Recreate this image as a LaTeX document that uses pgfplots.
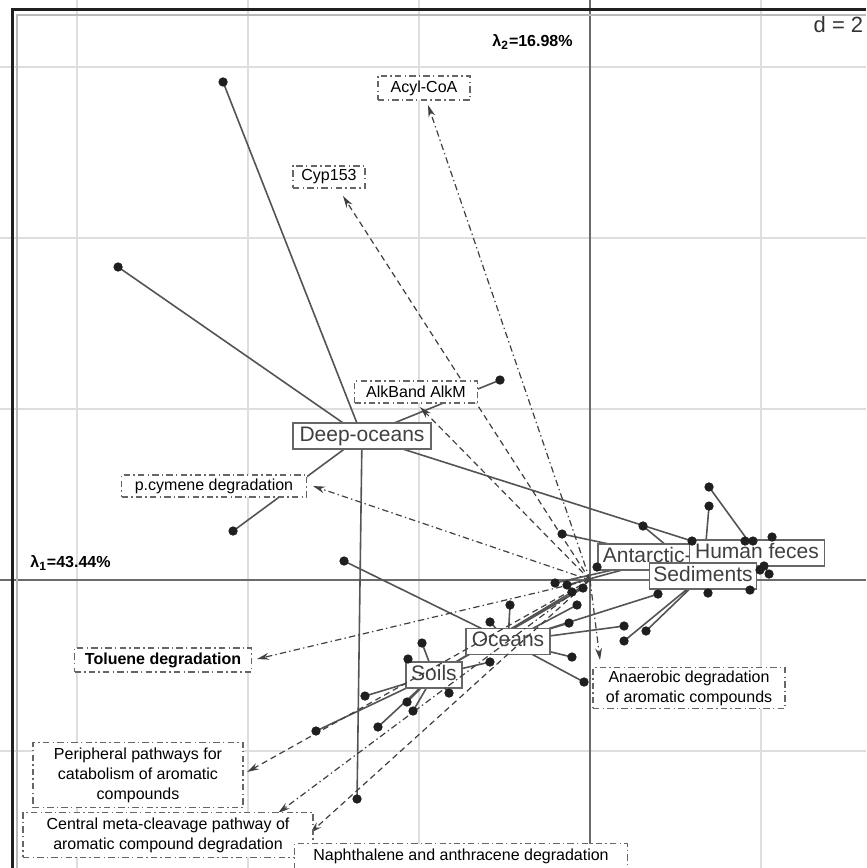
\documentclass[border=0pt]{standalone}
\usepackage{pgfplots}
\pgfplotsset{compat=1.18}
\usepackage{fontspec}
\setmainfont{Liberation Sans}
\usetikzlibrary{arrows.meta}

\definecolor{gridc}{gray}{0.87}
\definecolor{axc}{gray}{0.42}
\definecolor{linec}{gray}{0.33}
\definecolor{ptc}{gray}{0.12}
\definecolor{arrc}{gray}{0.25}
\definecolor{boxc}{gray}{0.40}
\definecolor{labc}{gray}{0.25}

\begin{document}
\begin{tikzpicture}[
  star/.style={linec, line width=0.8pt},
  arr/.style={arrc, line width=0.6pt, -{Stealth[length=6pt,width=3.4pt]}},
  dsh/.style={dash pattern=on 3pt off 2pt},
  dd/.style={dash pattern=on 3.2pt off 1.6pt on 0.7pt off 1.6pt},
  classbox/.style={draw=boxc, fill=white, line width=0.8pt, inner xsep=1pt, inner ysep=1pt,
     minimum height=13pt, text height=7.6pt, text depth=2.2pt,
     font=\fontsize{10.5}{12}\selectfont, text=labc},
  lab/.style={draw=boxc, fill=white, line width=0.6pt, dd, inner sep=1pt,
     font=\fontsize{8}{10}\selectfont, text=black, align=center},
]
\begin{axis}[
  scale only axis, width=433pt, height=434pt,
  xmin=-6.901, xmax=3.228, ymin=-3.368, ymax=6.784,
  axis line style={draw=none},
  xtick={-6,-4,-2,2}, ytick={-2,2,4,6},
  xticklabels={}, yticklabels={},
  tick style={draw=none},
  grid=major, grid style={gridc, line width=0.8pt},
  unbounded coords=jump,
  clip=true,
]
% main axes
\draw[axc, line width=1pt] (axis cs:0,-3.368) -- (axis cs:0,6.784);
\draw[axc, line width=1pt] (axis cs:-6.901,0) -- (axis cs:3.228,0);

% star lines: Deep-oceans
\addplot[star] coordinates {
 (-2.667,1.684) (-4.292,5.825) (nan,nan)
 (-2.667,1.684) (-5.520,3.661) (nan,nan)
 (-2.667,1.684) (-1.053,2.339) (nan,nan)
 (-2.667,1.684) (-4.175,0.573) (nan,nan)
 (-2.667,1.684) (-2.725,-2.561) (nan,nan)
 (-2.667,1.684) (1.193,0.456)
};
% Human feces
\addplot[star] coordinates {
 (1.953,0.316) (1.392,1.088) (nan,nan)
 (1.953,0.316) (1.906,0.456) (nan,nan)
 (1.953,0.316) (2.129,0.503) (nan,nan)
 (1.953,0.316) (1.988,0.117) (nan,nan)
 (1.953,0.316) (2.094,0.070) (nan,nan)
 (1.953,0.316) (2.035,0.164) (nan,nan)
 (1.953,0.316) (1.813,0.456)
};
% Sediments
\addplot[star] coordinates {
 (1.322,0.047) (1.392,0.865) (nan,nan)
 (1.322,0.047) (0.620,0.632) (nan,nan)
 (1.322,0.047) (1.380,-0.152) (nan,nan)
 (1.322,0.047) (1.871,-0.117) (nan,nan)
 (1.322,0.047) (0.398,-0.713) (nan,nan)
 (1.322,0.047) (0.655,-0.596)
};
% Antarctic
\addplot[star] coordinates {
 (0.936,0.269) (-0.327,0.538) (nan,nan)
 (0.936,0.269) (0.082,0.152) (nan,nan)
 (0.936,0.269) (-0.409,-0.035) (nan,nan)
 (0.936,0.269) (-0.269,-0.058)
};
% Oceans
\addplot[star] coordinates {
 (-0.959,-0.719) (-2.877,0.222) (nan,nan)
 (-0.959,-0.719) (-0.936,-0.292) (nan,nan)
 (-0.959,-0.719) (-1.170,-0.491) (nan,nan)
 (-0.959,-0.719) (-0.246,-0.503) (nan,nan)
 (-0.959,-0.719) (0.398,-0.538) (nan,nan)
 (-0.959,-0.719) (0.795,-0.164) (nan,nan)
 (-0.959,-0.719) (-0.211,-0.901) (nan,nan)
 (-0.959,-0.719) (-0.070,-1.193) (nan,nan)
 (-0.959,-0.719) (-0.152,-0.292)
};
% Soils
\addplot[star] coordinates {
 (-1.825,-1.111) (-1.965,-0.737) (nan,nan)
 (-1.825,-1.111) (-2.129,-0.924) (nan,nan)
 (-1.825,-1.111) (-2.632,-1.357) (nan,nan)
 (-1.825,-1.111) (-2.140,-1.427) (nan,nan)
 (-1.825,-1.111) (-2.070,-1.532) (nan,nan)
 (-1.825,-1.111) (-1.649,-1.322) (nan,nan)
 (-1.825,-1.111) (-2.480,-1.719) (nan,nan)
 (-1.825,-1.111) (-3.205,-1.766) (nan,nan)
 (-1.825,-1.111) (-1.170,-0.959) (nan,nan)
 (-1.825,-1.111) (-0.082,-0.094) (nan,nan)
 (-1.825,-1.111) (-0.211,-0.140)
};

% points
\addplot[only marks, mark=*, mark size=2.1pt, mark options={fill=ptc, draw=ptc}] coordinates {
 (-4.292,5.825) (-5.520,3.661) (-1.053,2.339) (-4.175,0.573) (-2.725,-2.561) (1.193,0.456)
 (1.392,1.088) (1.906,0.456) (2.129,0.503) (1.988,0.117) (2.094,0.070) (2.035,0.164) (1.813,0.456)
 (1.392,0.865) (0.620,0.632) (1.380,-0.152) (1.871,-0.117) (0.398,-0.713) (0.655,-0.596)
 (-0.327,0.538) (0.082,0.152) (-0.409,-0.035) (-0.269,-0.058)
 (-2.877,0.222) (-0.936,-0.292) (-1.170,-0.491) (-0.246,-0.503) (0.398,-0.538) (0.795,-0.164)
 (-0.211,-0.901) (-0.070,-1.193) (-0.152,-0.292)
 (-1.965,-0.737) (-2.129,-0.924) (-2.632,-1.357) (-2.140,-1.427) (-2.070,-1.532) (-1.649,-1.322)
 (-2.480,-1.719) (-3.205,-1.766) (-1.170,-0.959) (-0.082,-0.094) (-0.211,-0.140)
};

% class labels
\node[classbox, anchor=west, text width=71pt, align=left] at (axis cs:0.082,0.269) {\hspace*{1.5pt}Antarctic-};
\node[classbox, minimum width=69pt] at (axis cs:-2.667,1.684) {Deep-oceans};
\node[classbox, minimum width=42pt] at (axis cs:-0.959,-0.719) {Oceans};
\node[classbox, minimum width=28pt] at (axis cs:-1.825,-1.111) {Soils};
\node[classbox, minimum width=67.5pt] at (axis cs:1.953,0.316) {Human feces};
\node[classbox, minimum width=53.5pt] at (axis cs:1.322,0.047) {Sediments};

% arrows
\addplot[arr, dd]  coordinates {(0,0) (-1.895,5.556)};
\addplot[arr, dsh] coordinates {(0,0) (-2.889,4.491)};
\addplot[arr, dsh] coordinates {(0,0) (-1.988,2.023)};
\addplot[arr, dd]  coordinates {(0,0) (-3.240,1.099)};
\addplot[arr, dd]  coordinates {(0,0) (-3.895,-0.924)};
\addplot[arr, dsh] coordinates {(0,0) (-4.012,-2.246)};
\addplot[arr, dd]  coordinates {(0,0) (-3.649,-2.725)};
\addplot[arr, dsh] coordinates {(0,0) (-3.275,-2.959)};
\addplot[arr, dd]  coordinates {(0,0) (0.117,-0.936)};

% arrow labels
\node[lab, minimum width=46pt, minimum height=12pt] at (axis cs:-1.942,5.754) {Acyl-CoA};
\node[lab, minimum width=36pt, minimum height=11pt] at (axis cs:-3.053,4.713) {Cyp153};
\node[lab, minimum width=61.5pt, minimum height=11pt] at (axis cs:-2.035,2.199) {AlkBand AlkM};
\node[lab, minimum width=92.5pt, minimum height=11pt] at (axis cs:-4.398,1.099) {p.cymene degradation};
\node[lab, minimum width=88.5pt, minimum height=12pt, font=\fontsize{8}{10}\selectfont\bfseries] at (axis cs:-4.994,-0.936) {Toluene degradation};
\node[lab, minimum width=105pt, minimum height=32.5pt] at (axis cs:-5.287,-2.281) {Peripheral pathways for\\catabolism of aromatic\\compounds};
\node[lab, minimum width=145pt, minimum height=22.5pt] at (axis cs:-4.936,-2.982) {Central meta-cleavage pathway of\\aromatic compound degradation};
\node[lab, minimum width=166.5pt, minimum height=12.5pt] at (axis cs:-1.509,-3.228) {Naphthalene and anthracene degradation};
\node[lab, minimum width=96pt, minimum height=20.5pt] at (axis cs:1.158,-1.263) {Anaerobic degradation\\of aromatic compounds};

% eigenvalue labels
\node[anchor=east, font=\fontsize{8}{10}\selectfont\bfseries, inner sep=0pt] at (axis cs:-0.199,6.292) {λ\textsubscript{2}=16.98\%};
\node[anchor=west, font=\fontsize{8}{10}\selectfont\bfseries, inner sep=0pt] at (axis cs:-6.550,0.199) {λ\textsubscript{1}=43.44\%};
\node[anchor=east, font=\fontsize{11}{12}\selectfont, text=black!80, inner sep=0pt] at (axis cs:3.200,6.490) {d = 2};

% frame
\draw[gray!25!black, line width=1.5pt] (axis cs:-6.760,-3.368) -- (axis cs:-6.760,6.678) -- (axis cs:3.228,6.678);
\draw[gray!55, line width=0.6pt] (axis cs:-6.702,-3.368) -- (axis cs:-6.702,6.608) -- (axis cs:3.228,6.608);
\end{axis}
\pgfresetboundingbox
\path[use as bounding box] (current axis.south west) rectangle (current axis.north east);
\end{tikzpicture}
\end{document}
